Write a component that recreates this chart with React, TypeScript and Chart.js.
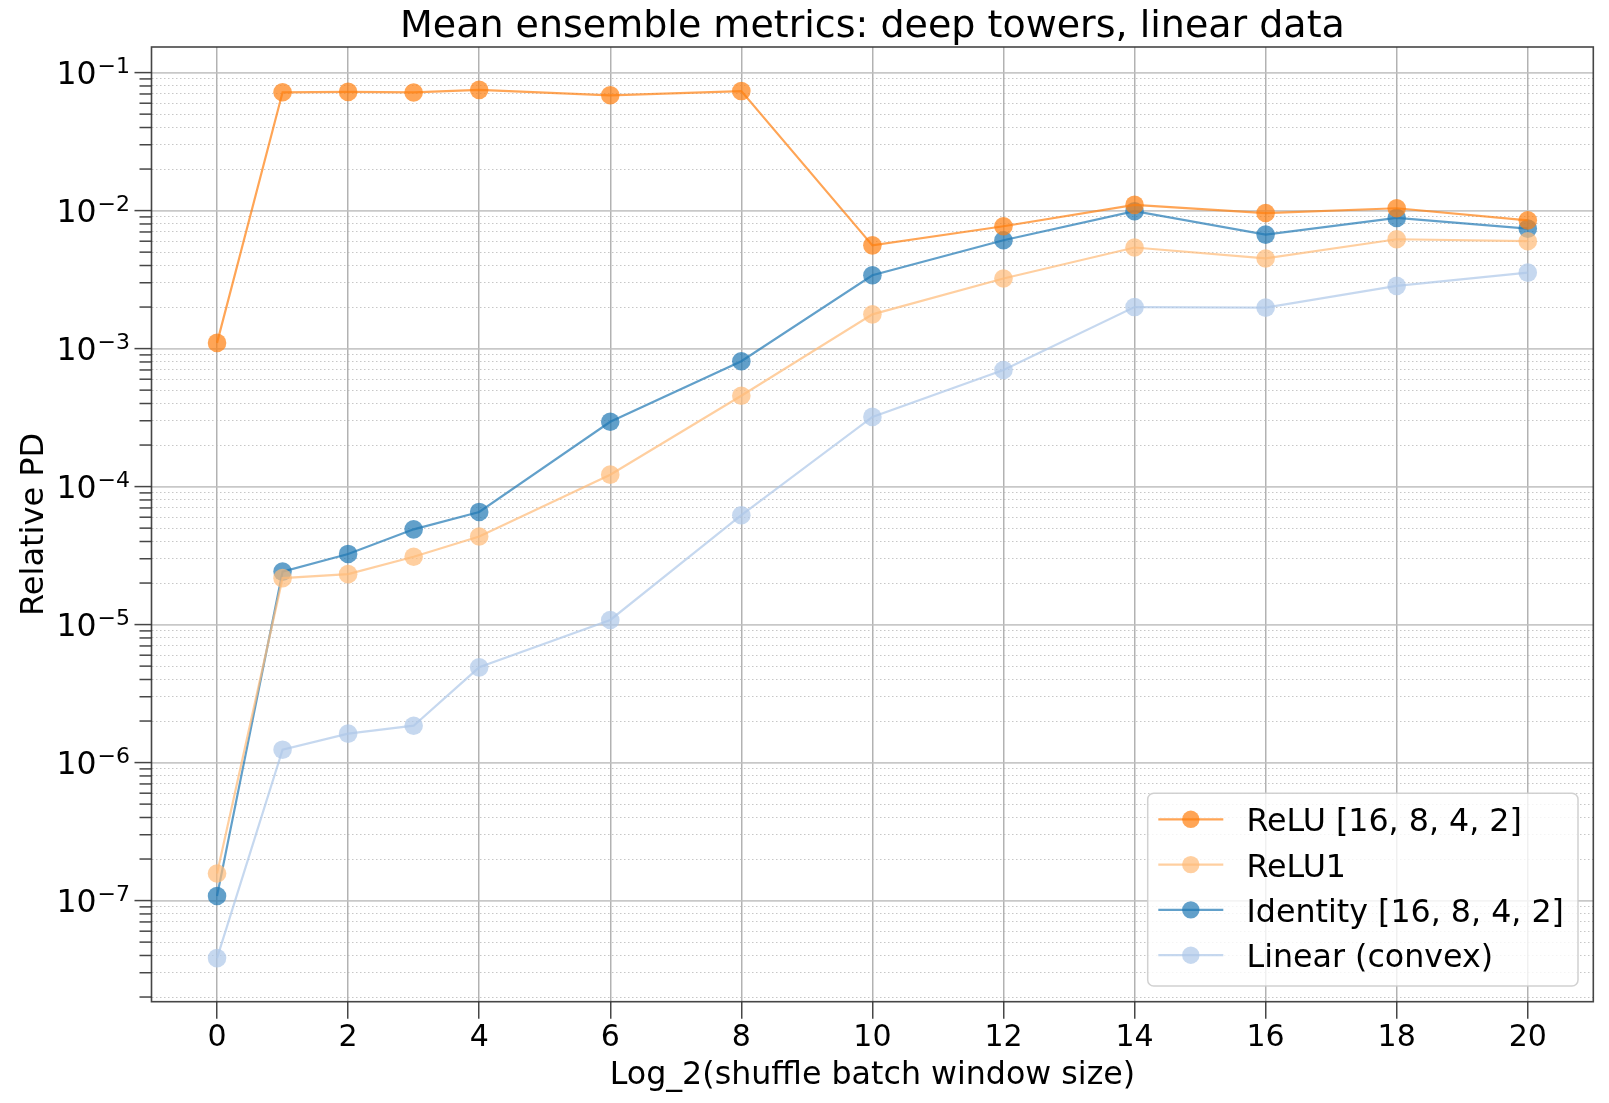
import React, { useEffect, useRef } from 'react';
import { Chart, registerables } from 'chart.js';

Chart.register(...registerables);

// ---------- data ----------
const X_VALUES = [0, 1, 2, 3, 4, 6, 8, 10, 12, 14, 16, 18, 20];
const RELU = [1.1e-3, 0.072, 0.0725, 0.0718, 0.075, 0.0685, 0.0735, 5.6e-3, 7.7e-3, 0.011, 9.6e-3, 0.0104, 8.5e-3];
const RELU1 = [1.57e-7, 2.17e-5, 2.32e-5, 3.1e-5, 4.35e-5, 1.22e-4, 4.55e-4, 1.77e-3, 3.22e-3, 5.4e-3, 4.5e-3, 6.2e-3, 6.0e-3];
const IDENTITY = [1.08e-7, 2.42e-5, 3.25e-5, 4.9e-5, 6.55e-5, 2.95e-4, 8.1e-4, 3.4e-3, 6.1e-3, 9.9e-3, 6.7e-3, 8.85e-3, 7.4e-3];
const LINEAR = [3.83e-8, 1.24e-6, 1.62e-6, 1.85e-6, 4.9e-6, 1.08e-5, 6.2e-5, 3.2e-4, 7.0e-4, 2.0e-3, 1.98e-3, 2.85e-3, 3.55e-3];

const SERIES_LABELS = ['ReLU [16, 8, 4, 2]', 'ReLU1', 'Identity [16, 8, 4, 2]', 'Linear (convex)'];
const SERIES_VALUES = [RELU, RELU1, IDENTITY, LINEAR];
const SERIES_COLORS = ['rgba(255,127,14,0.7)', 'rgba(255,187,120,0.7)', 'rgba(31,119,180,0.7)', 'rgba(174,199,232,0.7)'];

const X_TICKS = [0, 2, 4, 6, 8, 10, 12, 14, 16, 18, 20];
const Y_MAJOR_EXPONENTS = [-7, -6, -5, -4, -3, -2, -1];
const X_MIN = -1;
const X_MAX = 21;
const Y_MIN = 1.85e-8;
const Y_MAX = 0.1533;

const TITLE = 'Mean ensemble metrics: deep towers, linear data';
const X_LABEL = 'Log_2(shuffle batch window size)';
const Y_LABEL = 'Relative PD';

const FONT = "'DejaVu Sans', sans-serif";

function isMajor(v: number) {
  const l = Math.log10(v);
  return Math.abs(l - Math.round(l)) < 1e-9;
}

function buildYTicks() {
  const out: { value: number; major: boolean }[] = [];
  for (let e = -9; e <= 0; e++) {
    for (let m = 1; m <= 9; m++) {
      const v = parseFloat((m * Math.pow(10, e)).toPrecision(12));
      if (v >= Y_MIN && v <= Y_MAX) out.push({ value: v, major: m === 1 });
    }
  }
  return out;
}

const decorPlugin = {
  id: 'decor',
  beforeDraw(chart: any) {
    const ctx = chart.ctx;
    ctx.save();
    ctx.fillStyle = '#ffffff';
    ctx.fillRect(0, 0, chart.width, chart.height);
    ctx.restore();
  },
  afterDraw(chart: any) {
    const ctx = chart.ctx;
    const area = chart.chartArea;
    const ys = chart.scales.y;
    ctx.save();

    // frame
    ctx.strokeStyle = 'rgba(50,50,50,0.9)';
    ctx.lineWidth = 1.6;
    ctx.strokeRect(area.left, area.top, area.right - area.left, area.bottom - area.top);

    // y tick marks
    ctx.lineWidth = 1.5;
    ys.ticks.forEach((t: any) => {
      const y = ys.getPixelForValue(t.value);
      const len = isMajor(t.value) ? 17 : 12;
      ctx.beginPath();
      ctx.moveTo(area.left - len, y);
      ctx.lineTo(area.left, y);
      ctx.stroke();
    });

    // y tick labels with superscripts
    ctx.fillStyle = '#000';
    ctx.textAlign = 'right';
    ctx.textBaseline = 'alphabetic';
    Y_MAJOR_EXPONENTS.forEach((e) => {
      const y = ys.getPixelForValue(Math.pow(10, e));
      const sup = '\u2212' + Math.abs(e);
      ctx.font = `22px ${FONT}`;
      const supW = ctx.measureText(sup).width;
      const right = 130;
      ctx.fillText(sup, right, y + 0.5);
      ctx.font = `31.5px ${FONT}`;
      ctx.fillText('10', right - supW - 1, y + 11.8);
    });

    // title
    ctx.textAlign = 'center';
    ctx.font = `38px ${FONT}`;
    ctx.fillText(TITLE, (area.left + area.right) / 2, 37.3);

    // x label
    ctx.font = `31.7px ${FONT}`;
    ctx.fillText(X_LABEL, (area.left + area.right) / 2, 1084.3);

    // y label
    ctx.font = `32px ${FONT}`;
    ctx.save();
    ctx.translate(43.3, (area.top + area.bottom) / 2);
    ctx.rotate(-Math.PI / 2);
    ctx.fillText(Y_LABEL, 0, 0);
    ctx.restore();

    // legend
    const bx = 1147.7, by = 793.3, bw = 1578 - 1147.7, bh = 986 - 793.3, r = 6;
    ctx.beginPath();
    ctx.moveTo(bx + r, by);
    ctx.lineTo(bx + bw - r, by);
    ctx.arcTo(bx + bw, by, bx + bw, by + r, r);
    ctx.lineTo(bx + bw, by + bh - r);
    ctx.arcTo(bx + bw, by + bh, bx + bw - r, by + bh, r);
    ctx.lineTo(bx + r, by + bh);
    ctx.arcTo(bx, by + bh, bx, by + bh - r, r);
    ctx.lineTo(bx, by + r);
    ctx.arcTo(bx, by, bx + r, by, r);
    ctx.closePath();
    ctx.fillStyle = 'rgba(255,255,255,0.8)';
    ctx.fill();
    ctx.strokeStyle = 'rgba(204,204,204,0.9)';
    ctx.lineWidth = 1.5;
    ctx.stroke();

    chart.data.datasets.forEach((ds: any, i: number) => {
      const cy = 819.3 + i * 45.3;
      ctx.strokeStyle = ds.borderColor;
      ctx.lineWidth = 2.2;
      ctx.beginPath();
      ctx.moveTo(1158.3, cy);
      ctx.lineTo(1223.3, cy);
      ctx.stroke();
      ctx.fillStyle = ds.pointBackgroundColor;
      ctx.beginPath();
      ctx.arc(1190.8, cy, 8.7, 0, Math.PI * 2);
      ctx.fill();
      ctx.fillStyle = '#000';
      ctx.textAlign = 'left';
      ctx.font = `31.7px ${FONT}`;
      ctx.fillText(ds.label, 1246.5, cy + 11.9);
    });

    ctx.restore();
  },
};

export default function App() {
  const ref = useRef<HTMLCanvasElement | null>(null);

  useEffect(() => {
    if (!ref.current) return;
    const datasets = SERIES_LABELS.map((label, i) => ({
      label,
      data: X_VALUES.map((x, j) => ({ x, y: SERIES_VALUES[i][j] })),
      borderColor: SERIES_COLORS[i],
      backgroundColor: SERIES_COLORS[i],
      pointBackgroundColor: SERIES_COLORS[i],
      pointBorderWidth: 0,
      pointRadius: 9.3,
      borderWidth: 2.2,
      fill: false,
      tension: 0,
    }));

    const chart = new Chart(ref.current, {
      type: 'line',
      data: { datasets },
      options: {
        animation: false,
        responsive: false,
        devicePixelRatio: 1,
        layout: { padding: { top: 47, right: 15.7, left: 0, bottom: 0 } },
        plugins: {
          legend: { display: false },
          title: { display: false },
          tooltip: { enabled: false },
        },
        scales: {
          x: {
            type: 'linear',
            min: X_MIN,
            max: X_MAX,
            afterBuildTicks: (s: any) => {
              s.ticks = X_TICKS.map((v) => ({ value: v }));
            },
            afterFit: (s: any) => {
              s.height = 101.3;
            },
            ticks: {
              autoSkip: false,
              maxRotation: 0,
              padding: 2,
              color: '#000',
              font: { family: FONT, size: 30 },
              callback: (v: any) => String(v),
            },
            grid: {
              color: 'rgba(170,170,170,0.9)',
              lineWidth: 1.5,
              drawTicks: true,
              tickLength: 17,
              tickColor: 'rgba(50,50,50,0.9)',
              tickWidth: 1.5,
            },
            border: { display: false },
          },
          y: {
            type: 'logarithmic',
            min: Y_MIN,
            max: Y_MAX,
            afterBuildTicks: (s: any) => {
              s.ticks = buildYTicks();
            },
            afterFit: (s: any) => {
              s.width = 151.5;
            },
            ticks: { display: false, autoSkip: false },
            grid: {
              drawTicks: false,
              color: (c: any) => (c.tick && isMajor(c.tick.value) ? 'rgba(190,190,190,0.85)' : 'rgba(180,180,180,0.75)'),
              lineWidth: (c: any) => (c.tick && isMajor(c.tick.value) ? 1.8 : 1),
            },
            border: {
              display: false,
              dash: (c: any) => (c.tick && !isMajor(c.tick.value) ? [1.5, 2.5] : []),
            },
          },
        },
      },
      plugins: [decorPlugin],
    } as any);

    return () => chart.destroy();
  }, []);

  return (
    <div style={{ position: 'fixed', left: 0, top: 0, width: 1609, height: 1103, background: '#fff' }}>
      <canvas ref={ref} width={1609} height={1103} style={{ display: 'block', width: 1609, height: 1103 }} />
    </div>
  );
}
